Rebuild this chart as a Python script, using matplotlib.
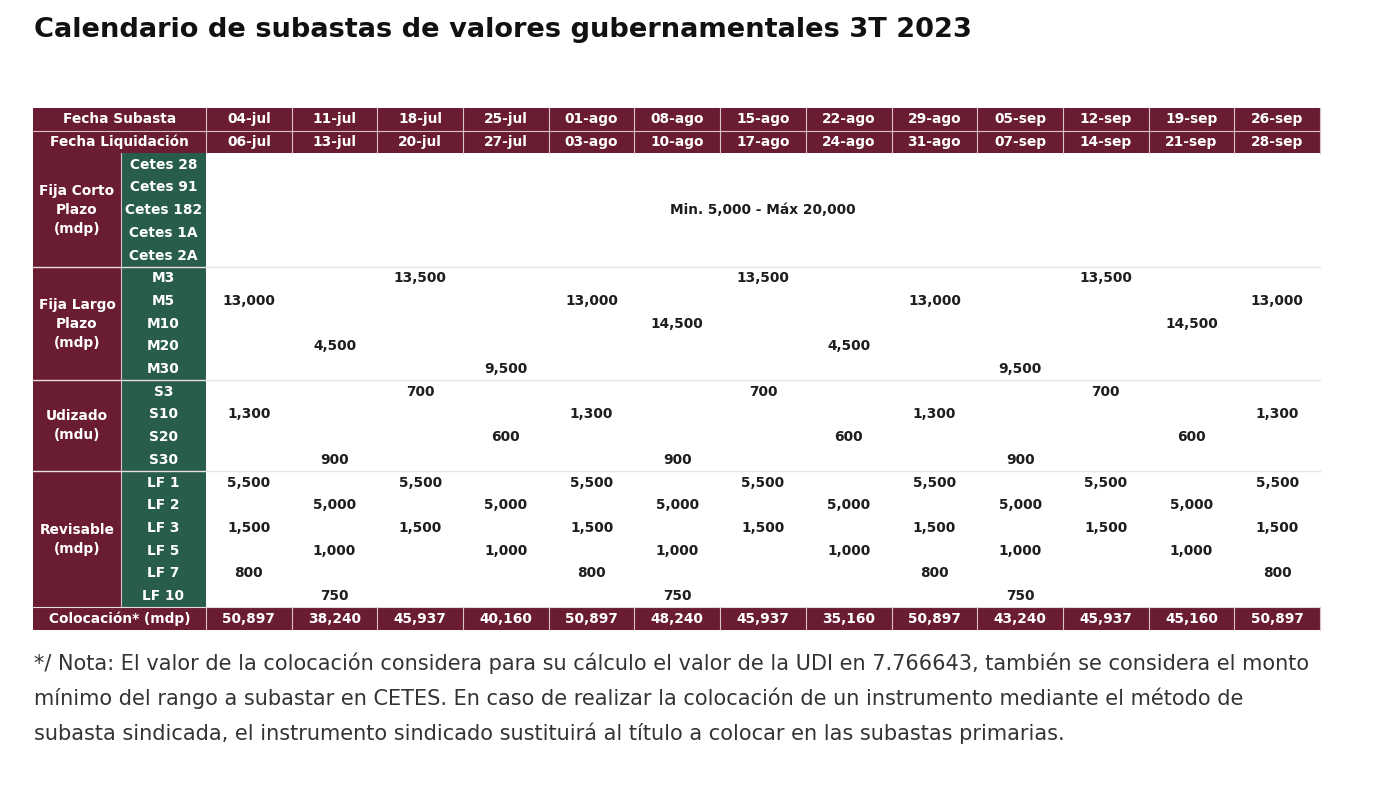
import matplotlib
matplotlib.use("Agg")
import matplotlib.pyplot as plt
from matplotlib.patches import Rectangle

plt.rcParams['font.family'] = ['DejaVu Sans']

# ---- data ----
title = "Calendario de subastas de valores gubernamentales 3T 2023"
fecha_subasta = ["04-jul", "11-jul", "18-jul", "25-jul", "01-ago", "08-ago", "15-ago",
                 "22-ago", "29-ago", "05-sep", "12-sep", "19-sep", "26-sep"]
fecha_liquidacion = ["06-jul", "13-jul", "20-jul", "27-jul", "03-ago", "10-ago", "17-ago",
                     "24-ago", "31-ago", "07-sep", "14-sep", "21-sep", "28-sep"]

grupos = ["Fija Corto\nPlazo\n(mdp)", "Fija Largo\nPlazo\n(mdp)", "Udizado\n(mdu)", "Revisable\n(mdp)"]
cetes = ["Cetes 28", "Cetes 91", "Cetes 182", "Cetes 1A", "Cetes 2A"]
bonos_m = ["M3", "M5", "M10", "M20", "M30"]
udibonos = ["S3", "S10", "S20", "S30"]
bondes = ["LF 1", "LF 2", "LF 3", "LF 5", "LF 7", "LF 10"]
cetes_rango = "Min. 5,000 - Máx 20,000"

N = None
M3 = [N, N, 13500, N, N, N, 13500, N, N, N, 13500, N, N]
M5 = [13000, N, N, N, 13000, N, N, N, 13000, N, N, N, 13000]
M10 = [N, N, N, N, N, 14500, N, N, N, N, N, 14500, N]
M20 = [N, 4500, N, N, N, N, N, 4500, N, N, N, N, N]
M30 = [N, N, N, 9500, N, N, N, N, N, 9500, N, N, N]
S3 = [N, N, 700, N, N, N, 700, N, N, N, 700, N, N]
S10 = [1300, N, N, N, 1300, N, N, N, 1300, N, N, N, 1300]
S20 = [N, N, N, 600, N, N, N, 600, N, N, N, 600, N]
S30 = [N, 900, N, N, N, 900, N, N, N, 900, N, N, N]
LF1 = [5500, N, 5500, N, 5500, N, 5500, N, 5500, N, 5500, N, 5500]
LF2 = [N, 5000, N, 5000, N, 5000, N, 5000, N, 5000, N, 5000, N]
LF3 = [1500, N, 1500, N, 1500, N, 1500, N, 1500, N, 1500, N, 1500]
LF5 = [N, 1000, N, 1000, N, 1000, N, 1000, N, 1000, N, 1000, N]
LF7 = [800, N, N, N, 800, N, N, N, 800, N, N, N, 800]
LF10 = [N, 750, N, N, N, 750, N, N, N, 750, N, N, N]
colocacion = [50897, 38240, 45937, 40160, 50897, 48240, 45937, 35160, 50897, 43240, 45937, 45160, 50897]

nota = ("*/ Nota: El valor de la colocación considera para su cálculo el valor de la UDI en 7.766643, también se considera el monto\n"
        "mínimo del rango a subastar en CETES. En caso de realizar la colocación de un instrumento mediante el método de\n"
        "subasta sindicada, el instrumento sindicado sustituirá al título a colocar en las subastas primarias.")

# ---- styling ----
guinda = "#691c32"
verde = "#285c4d"
texto = "#1e1e1e"

W, H = 1394, 796
fig = plt.figure(figsize=(W / 100, H / 100), dpi=100)
ax = fig.add_axes([0, 0, 1, 1])
ax.set_xlim(0, W)
ax.set_ylim(H, 0)
ax.axis("off")

x_left, x_split, x_data, x_right = 33, 121, 206, 1320
ncol = len(fecha_subasta)
cw = (x_right - x_data) / ncol
y_top = 108
rh = 22.7
fs = 9.9


def col_center(i):
    return x_data + cw * (i + 0.5)


def cell_text(x, y, s, color="white", size=fs, **kw):
    ax.text(x, y, s, ha="center", va="center", color=color, fontsize=size,
            fontweight="bold", **kw)


ax.text(34, 30, title, fontsize=19.6, fontweight="bold", color="#111111",
        ha="left", va="center")

# header rows
for r, (lab, fechas) in enumerate([("Fecha Subasta", fecha_subasta),
                                   ("Fecha Liquidación", fecha_liquidacion)]):
    y = y_top + r * rh
    ax.add_patch(Rectangle((x_left, y), x_right - x_left, rh, facecolor=guinda,
                           edgecolor="none"))
    cell_text((x_left + x_data) / 2, y + rh / 2, lab)
    for i, f in enumerate(fechas):
        cell_text(col_center(i), y + rh / 2, f)
ax.plot([x_left, x_right], [y_top + rh, y_top + rh], color="#d9c3ca", lw=0.8)

# body groups
bloques = [
    (grupos[0], cetes, None),
    (grupos[1], bonos_m, [M3, M5, M10, M20, M30]),
    (grupos[2], udibonos, [S3, S10, S20, S30]),
    (grupos[3], bondes, [LF1, LF2, LF3, LF5, LF7, LF10]),
]
y = y_top + 2 * rh
for g, (nombre, instr, filas) in enumerate(bloques):
    h = len(instr) * rh
    ax.add_patch(Rectangle((x_left, y), x_split - x_left, h, facecolor=guinda,
                           edgecolor="none"))
    ax.add_patch(Rectangle((x_split, y), x_data - x_split, h, facecolor=verde,
                           edgecolor="none"))
    cell_text((x_left + x_split) / 2, y + h / 2, nombre, linespacing=1.45)
    for k, s in enumerate(instr):
        cell_text((x_split + x_data) / 2, y + rh * (k + 0.5), s)
    if filas is None:
        cell_text((x_data + x_right) / 2, y + h / 2, cetes_rango, color=texto)
    else:
        for k, fila in enumerate(filas):
            for i, v in enumerate(fila):
                if v is not None:
                    cell_text(col_center(i), y + rh * (k + 0.5), f"{v:,}", color=texto)
    if g > 0:
        ax.plot([x_left, x_data], [y, y], color="#e8dde0", lw=1.0)
        ax.plot([x_data, x_right], [y, y], color="#e6e6e6", lw=1.0)
    y += h

# colocación row
ax.add_patch(Rectangle((x_left, y), x_right - x_left, rh, facecolor=guinda,
                       edgecolor="none"))
ax.plot([x_left, x_right], [y, y], color="#e8dde0", lw=0.8)
cell_text((x_left + x_data) / 2, y + rh / 2, "Colocación* (mdp)")
for i, v in enumerate(colocacion):
    cell_text(col_center(i), y + rh / 2, f"{v:,}")

# vertical separators in header / footer rows
for i in range(ncol + 1):
    x = x_data + cw * i
    ax.plot([x, x], [y_top, y_top + 2 * rh], color="#d9c3ca", lw=0.8)
    ax.plot([x, x], [y, y + rh], color="#d9c3ca", lw=0.8)
ax.plot([x_split, x_split], [y_top + 2 * rh, y], color="#d9c3ca", lw=0.8)

ax.text(34, 698, nota, fontsize=15.0, color="#333333", ha="left", va="center",
        linespacing=1.77)

fig.savefig("out.png", dpi=100)
